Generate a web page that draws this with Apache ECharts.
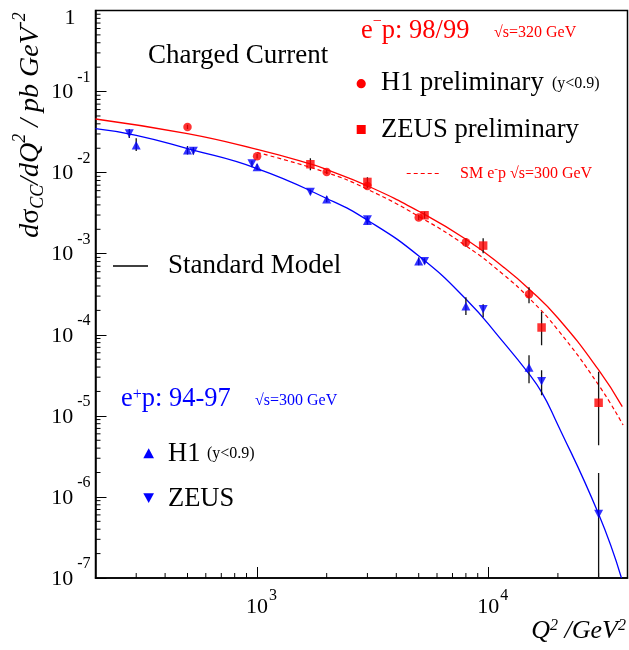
<!DOCTYPE html>
<html><head><meta charset="utf-8">
<script src="https://cdn.jsdelivr.net/npm/echarts@6/dist/echarts.min.js"></script>
<style>html,body{margin:0;padding:0;background:#fff}#c{width:629px;height:650px}</style>
</head><body><div id="c"></div>
<script>
// ---------------- data ----------------
// e+p 94-97, H1 (triangle up)
const h1PosQ2  = [300, 500, 1000, 2000, 3000, 5000, 8000, 15000];
const h1PosVal = [0.0218, 0.0189, 0.01175, 0.0047, 0.00255, 8.07e-4, 2.25e-4, 3.95e-5];
const h1PosLo  = [0.0185, 0.0168, 0.0108, 0.0043, 0.0023, 7.2e-4, 1.75e-4, 2.53e-5];
const h1PosHi  = [0.0266, 0.0213, 0.0127, 0.0051, 0.0028, 9.0e-4, 2.91e-4, 5.6e-5];
// e+p 94-97, ZEUS (triangle down)
const zeusPosQ2  = [280, 530, 950, 1700, 3000, 5300, 9500, 17000, 30000];
const zeusPosVal = [0.0303, 0.0185, 0.01294, 0.00578, 0.00265, 8.07e-4, 2.07e-4, 2.68e-5, 6.14e-7];
const zeusPosLo  = [0.0268, 0.0168, 0.0120, 0.0054, 0.0024, 7.4e-4, 1.65e-4, 1.80e-5, 1e-7];
const zeusPosHi  = [0.0345, 0.0205, 0.0140, 0.0062, 0.0029, 8.8e-4, 2.38e-4, 3.66e-5, 1.97e-6];
// e-p 98/99, H1 preliminary (circle)
const h1NegQ2  = [500, 1000, 2000, 3000, 5000, 8000, 15000];
const h1NegVal = [0.0366, 0.0159, 0.0102, 0.00685, 0.00279, 0.00138, 3.16e-4];
const h1NegLo  = [0.0345, 0.0149, 0.0096, 0.0064, 0.0026, 0.00122, 2.45e-4];
const h1NegHi  = [0.0390, 0.0170, 0.0108, 0.0073, 0.0030, 0.00155, 3.86e-4];
// e-p 98/99, ZEUS preliminary (square)
const zeusNegQ2  = [1700, 3000, 5300, 9500, 17000, 30000];
const zeusNegVal = [0.0127, 0.00768, 0.00298, 0.00126, 1.23e-4, 1.45e-5];
const zeusNegLo  = [0.0107, 0.0066, 0.0027, 0.00101, 7.45e-5, 4.35e-6];
const zeusNegHi  = [0.0151, 0.0088, 0.0033, 0.00155, 1.92e-4, 3.49e-5];
// Standard Model curves
const smPosQ2  = [200, 300, 500, 1000, 2000, 3000, 5070, 8090, 11230, 15000, 17000, 19400, 30000, 37670];
const smPosVal = [0.0349, 0.0289, 0.0198, 0.01124, 0.0048, 0.00259, 9.1e-4, 2.67e-4, 9.1e-5, 3.3e-5, 1.96e-5, 9.3e-6, 6.14e-7, 1e-7];
const smNegQ2  = [200, 500, 1000, 1700, 2000, 3000, 5070, 8000, 11610, 15000, 20000, 30000, 37970];
const smNegVal = [0.0459, 0.0302, 0.0193, 0.0128, 0.0109, 0.00688, 0.00327, 0.001506, 6.86e-4, 3.67e-4, 1.61e-4, 3.68e-5, 1.30e-5];
const sm300Q2  = [1000, 2000, 3000, 5000, 8000, 11610, 15000, 20000, 30000, 38280];
const sm300Val = [0.01772, 0.01001, 0.00623, 0.00289, 0.001252, 5.54e-4, 2.84e-4, 1.146e-4, 2.40e-5, 7.7e-6];
// axis ticks
const xMin = 200, xMax = 40000, yMin = 1e-7, yMax = 1;
const xMinorTicks = [300, 400, 500, 600, 700, 800, 900, 2000, 3000, 4000, 5000, 6000, 7000, 8000, 9000, 20000, 30000];
const yMinorTicks = [];
for (let k = -7; k < 0; k++) for (let m = 2; m <= 9; m++) yMinorTicks.push(m * Math.pow(10, k));

// ---------------- chart ----------------
const FONT = '"Liberation Serif", "Times New Roman", serif';
const RED = '#ff0000', BLUE = '#0000ff';

function pairs(xs, ys) { return xs.map((x, i) => [x, ys[i]]); }
function triples(xs, lo, hi) { return xs.map((x, i) => [x, lo[i], hi[i]]); }
function isPow10(v) { const l = Math.log10(v); return Math.abs(l - Math.round(l)) < 1e-6; }

const errData = [].concat(
  triples(h1PosQ2, h1PosLo, h1PosHi),
  triples(zeusPosQ2, zeusPosLo, zeusPosHi),
  triples(h1NegQ2, h1NegLo, h1NegHi),
  triples(zeusNegQ2, zeusNegLo, zeusNegHi)
);

const chart = echarts.init(document.getElementById('c'), null, {renderer: 'canvas'});

function T(x, y, text, size, color) {
  return {type: 'text', x: x, y: y, z: 100, silent: true,
    style: {text: text, fill: color || '#000', font: (size || 26) + 'px ' + FONT,
            align: 'left', verticalAlign: 'middle'}};
}
function richText(x, y, text, rich, color, align) {
  return {type: 'text', x: x, y: y, z: 100, silent: true,
    style: {text: text, fill: color, align: align || 'left', verticalAlign: 'middle', rich: rich,
            fontFamily: FONT}};
}
function tok(size, lh, pad, color, italic) {
  return {fontSize: size, lineHeight: lh, padding: pad, color: color, fontFamily: FONT,
          fontStyle: italic ? 'italic' : 'normal'};
}

const option = {
  animation: false,
  backgroundColor: '#fff',
  grid: {left: 95.5, right: 1.5, top: 10.5, bottom: 72, show: true, borderColor: '#000', borderWidth: 1.5,
         backgroundColor: 'transparent', containLabel: false, outerBoundsMode: 'none'},
  xAxis: {
    type: 'log', logBase: 10, min: xMin, max: xMax,
    axisLine: {lineStyle: {color: '#000', width: 1.5}},
    axisTick: {inside: true, length: 11, lineStyle: {color: '#000', width: 1}},
    splitLine: {show: false},
    axisLabel: {
      margin: 14, color: '#000', showMinLabel: false, showMaxLabel: false,
      formatter: v => isPow10(v) ? '{b|10}{e|' + Math.round(Math.log10(v)) + '}' : '',
      rich: {
        b: tok(22, 22, [9, 0, 0, 9], '#000'),
        e: tok(16, 16, [0, 0, 15, 1], '#000')
      }
    }
  },
  yAxis: {
    type: 'log', logBase: 10, min: yMin, max: yMax,
    axisLine: {lineStyle: {color: '#000', width: 1.5}},
    axisTick: {inside: true, length: 11, lineStyle: {color: '#000', width: 1}},
    splitLine: {show: false},
    axisLabel: {
      margin: 5, color: '#000', align: 'right',
      formatter: v => {
        if (!isPow10(v)) return '';
        const k = Math.round(Math.log10(v));
        return k === 0 ? '{one|1}' : '{b|10}{e|' + k + '}';
      },
      rich: {
        b: tok(22, 22, [12, 0, 10, 0], '#000'),
        e: tok(16, 16, [0, 0, 28, 4], '#000'),
        one: tok(22, 22, [19, 15, 3, 0], '#000')
      }
    }
  },
  series: [
    { // minor ticks on the x axis
      type: 'custom', z: 5, silent: true,
      data: xMinorTicks.map(v => [v, yMin]),
      renderItem: (p, api) => {
        const c = api.coord([api.value(0), api.value(1)]);
        return {type: 'line', shape: {x1: c[0], y1: c[1], x2: c[0], y2: c[1] - 5}, style: {stroke: '#000', lineWidth: 1}};
      }
    },
    { // minor ticks on the y axis
      type: 'custom', z: 5, silent: true,
      data: yMinorTicks.map(v => [xMin, v]),
      renderItem: (p, api) => {
        const c = api.coord([api.value(0), api.value(1)]);
        return {type: 'line', shape: {x1: c[0], y1: c[1], x2: c[0] + 5, y2: c[1]}, style: {stroke: '#000', lineWidth: 1}};
      }
    },
    {type: 'line', name: 'SM e+p', data: pairs(smPosQ2, smPosVal), showSymbol: false, smooth: 0.5,
     lineStyle: {color: BLUE, width: 1.3}, z: 10, clip: true},
    {type: 'line', name: 'SM e-p', data: pairs(smNegQ2, smNegVal), showSymbol: false, smooth: 0.5,
     lineStyle: {color: RED, width: 1.3}, z: 10, clip: true},
    {type: 'line', name: 'SM e-p 300', data: pairs(sm300Q2, sm300Val), showSymbol: false, smooth: 0.5,
     lineStyle: {color: RED, width: 1.2, type: [4, 3]}, z: 10, clip: true},
    { // error bars
      type: 'custom', z: 15, silent: true, clip: true,
      data: errData,
      encode: {x: 0, y: [1, 2]},
      renderItem: (p, api) => {
        const a = api.coord([api.value(0), api.value(1)]);
        const b = api.coord([api.value(0), api.value(2)]);
        return {type: 'line', shape: {x1: a[0], y1: a[1], x2: b[0], y2: b[1]}, style: {stroke: '#111', lineWidth: 1.3}};
      }
    },
    {type: 'scatter', name: 'H1 e+p', data: pairs(h1PosQ2, h1PosVal), symbol: 'triangle', symbolSize: [9, 8.5],
     itemStyle: {color: BLUE}, z: 20},
    {type: 'scatter', name: 'ZEUS e+p', data: pairs(zeusPosQ2, zeusPosVal), symbol: 'triangle', symbolRotate: 180, symbolSize: [9, 8.5],
     itemStyle: {color: BLUE}, z: 20},
    {type: 'scatter', name: 'H1 e-p', data: pairs(h1NegQ2, h1NegVal), symbol: 'circle', symbolSize: 8.5,
     itemStyle: {color: RED}, z: 20},
    {type: 'scatter', name: 'ZEUS e-p', data: pairs(zeusNegQ2, zeusNegVal), symbol: 'rect', symbolSize: 8.5,
     itemStyle: {color: RED}, z: 20}
  ],
  graphic: [
    // y axis title (rotated)
    {type: 'text', x: 31, y: 125, rotation: Math.PI / 2, z: 100, silent: true,
     style: {text: '{n|d}{g|σ}{sub|CC}{n|/dQ}{sup|2}{n| / pb GeV}{sup|-2}', align: 'center', verticalAlign: 'middle',
       rich: {
         n: tok(28, 28, [6, 0, 6, 0], '#000', true),
         g: tok(28, 28, [6, 0, 6, 0], '#000', false),
         sup: tok(18, 18, [0, 0, 22, 0], '#000', true),
         sub: tok(18, 18, [18, 0, 4, 0], '#000', true)
       }}},
    // x axis title
    richText(626, 631, '{n|Q}{s|2}{n| /GeV}{s|2}', {
       n: tok(26, 26, [0, 0, 0, 0], '#000', true),
       s: tok(16, 16, [0, 0, 10, 0], '#000', true)
    }, '#000', 'right'),
    T(148, 56, 'Charged Current', 27),
    // e-p block
    richText(361, 31, '{b|e}{s|−}{b|p: 98/99}', {
       b: tok(26.5, 26.5, [4, 0, 4, 0], RED),
       s: tok(16, 16, [0, 0, 18.5, 0], RED)
    }, RED),
    T(494, 33, '√s=320 GeV', 16, RED),
    {type: 'circle', shape: {cx: 361.2, cy: 83.7, r: 4.6}, style: {fill: RED}, z: 100, silent: true},
    T(381, 83.5, 'H1 preliminary', 26.5),
    T(552, 84, '(y<0.9)', 16),
    {type: 'rect', shape: {x: 356.7, y: 125, width: 9, height: 9}, style: {fill: RED}, z: 100, silent: true},
    T(381, 129.5, 'ZEUS preliminary', 26.7),
    {type: 'line', shape: {x1: 406.7, y1: 173.5, x2: 441.7, y2: 173.5}, style: {stroke: RED, lineWidth: 1.2, lineDash: [4, 3]}, z: 100, silent: true},
    richText(460, 174, '{b|SM e}{s|-}{b|p √s=300 GeV}', {
       b: tok(16, 16, [2.5, 0, 2.5, 0], RED),
       s: tok(11, 11, [0, 0, 10, 0], RED)
    }, RED),
    // standard model legend
    {type: 'line', shape: {x1: 113, y1: 266, x2: 148, y2: 266}, style: {stroke: '#000', lineWidth: 1.5}, z: 100, silent: true},
    T(168, 266, 'Standard Model', 27),
    // e+p block
    richText(121, 399.5, '{b|e}{s|+}{b|p: 94-97}', {
       b: tok(26.5, 26.5, [0, 0, 0, 0], BLUE),
       s: tok(16, 16, [1, 0, 9.5, 0], BLUE)
    }, BLUE),
    T(255, 401, '√s=300 GeV', 16, BLUE),
    {type: 'polygon', shape: {points: [[143.3, 458.3], [154, 458.3], [148.7, 448.3]]}, style: {fill: BLUE}, z: 100, silent: true},
    T(168, 454, 'H1', 26.5),
    T(207, 454, '(y<0.9)', 16),
    {type: 'polygon', shape: {points: [[143.3, 493.3], [154, 493.3], [148.7, 503]]}, style: {fill: BLUE}, z: 100, silent: true},
    T(168, 499.5, 'ZEUS', 26.5)
  ]
};
chart.setOption(option);
</script>
</body></html>
